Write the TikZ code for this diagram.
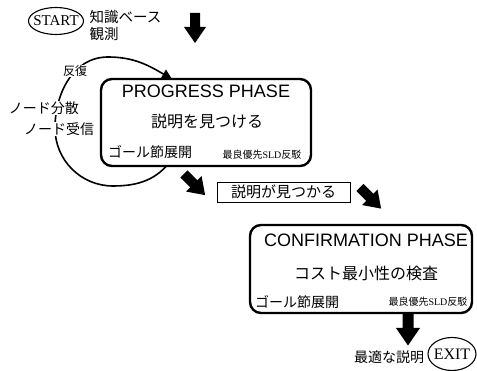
\documentclass[tikz,border=0pt]{standalone}
\usepackage{fontspec}
\setmainfont{Liberation Serif}
\newfontfamily\jp{Noto Sans CJK JP}
\newfontfamily\hv{Liberation Sans}
\usetikzlibrary{arrows.meta}
\tikzset{
  phase/.style={draw, line width=2.4pt, rounded corners=11pt, fill=white},
  lbl/.style={inner sep=0.5pt, font=\jp\fontsize{14}{15}\selectfont},
  wlbl/.style={lbl, fill=white},
  blockarrow/.pic={\fill (-5,15) -- (5,15) -- (5,1) -- (11,1) -- (0,-15) -- (-11,1) -- (-5,1) -- cycle;}
}
\begin{document}
\begin{tikzpicture}[x=1pt,y=1pt]
\useasboundingbox (0,0) rectangle (477,371);
% start
\draw[line width=1.1pt] (56,350) ellipse (27.5 and 13.5);
\node[inner sep=0, font=\fontsize{15}{15}\selectfont] (start) at (56,350) {START};
\node[lbl, anchor=north west, align=left, font=\jp\fontsize{14.5}{16.5}\selectfont] (kb) at (89,361) {知識ベース\\観測};
\pic at (195,343) {blockarrow};
% loop
\coordinate (ls) at (172,212);
\coordinate (lb) at (113,185);
\coordinate (ll) at (55,243);
\coordinate (lt) at (108,314);
\coordinate (le) at (172,292);
\draw[line width=1.6pt, -{Triangle[length=10pt,width=10pt]}]
  (ls) to[out=-125,in=0] (lb) to[out=180,in=-90] (ll) to[out=90,in=180] (lt) to[out=0,in=150] (le);
\node[wlbl, font=\jp\fontsize{12}{12}\selectfont] (rep) at (75,300) {反復};
\node[wlbl] (nd) at (44,263) {ノード分散};
\node[wlbl] (nr) at (59,242) {ノード受信};
% progress
\draw[phase] (101,205) rectangle (311,292);
\node[font=\hv\fontsize{18}{18}\selectfont] (pp) at (206,280) {PROGRESS PHASE};
\node[lbl, font=\jp\fontsize{16}{16}\selectfont] (pe) at (207,250) {説明を見つける};
\node[lbl] (pg) at (150,219) {ゴール節展開};
\node[inner sep=0, font=\fontsize{10}{10}\selectfont] (ps) at (262,216) {{\jp 最良優先}SLD{\jp 反駁}};
% found
\pic[rotate=45] at (194.5,186.5) {blockarrow};
\node[draw, line width=0.6pt, minimum width=133pt, minimum height=20pt, inner sep=0, font=\jp\fontsize{15}{15}\selectfont] (fd) at (283.5,179) {説明が見つかる};
\pic[rotate=45] at (370.5,173) {blockarrow};
% confirmation
\draw[phase] (250,58) rectangle (472,146);
\node[font=\hv\fontsize{18}{18}\selectfont] (cp) at (366,131) {CONFIRMATION PHASE};
\node[lbl, font=\jp\fontsize{16}{16}\selectfont] (cc) at (366,98) {コスト最小性の検査};
\node[lbl] (cg) at (297,69) {ゴール節展開};
\node[inner sep=0, font=\fontsize{10}{10}\selectfont] (cs) at (428,69) {{\jp 最良優先}SLD{\jp 反駁}};
\pic[scale=1.1] at (408,42) {blockarrow};
\node[lbl] (opt) at (389,14) {最適な説明};
\draw[line width=1.1pt] (452,17) ellipse (24 and 16.5);
\node[inner sep=0, font=\fontsize{16}{16}\selectfont] (exit) at (452,17) {EXIT};
\end{tikzpicture}
\end{document}
